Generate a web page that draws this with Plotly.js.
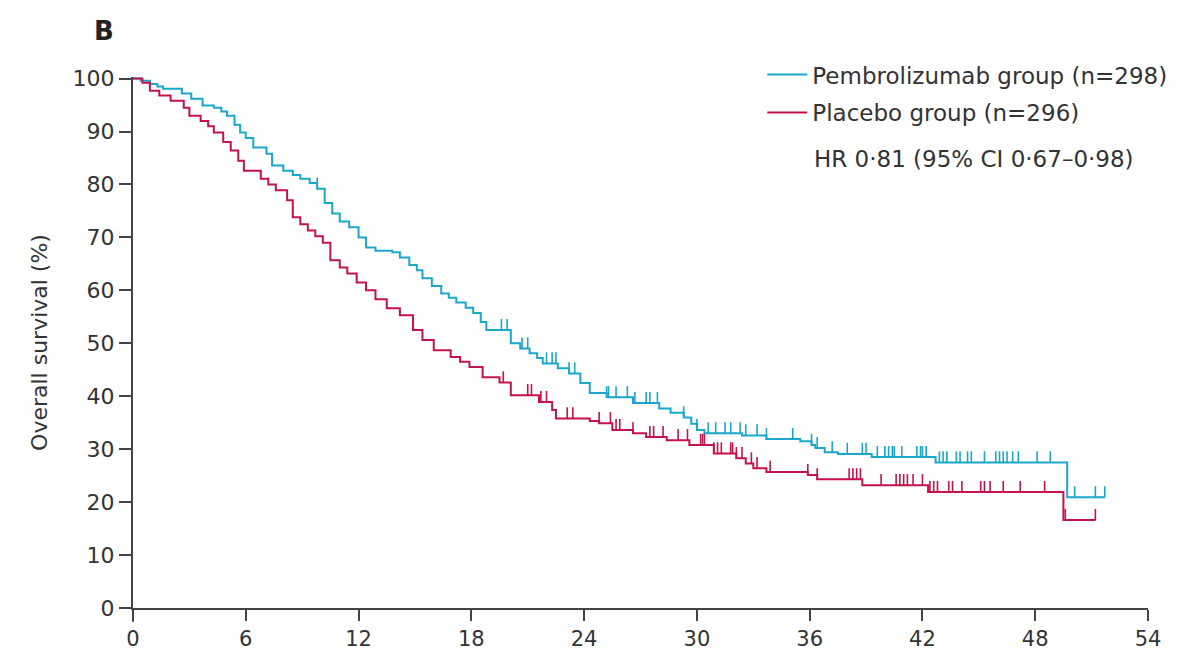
<!DOCTYPE html>
<html><head><meta charset="utf-8">
<script src="https://cdn.plot.ly/plotly-3.0.1.min.js"></script>
<style>html,body{margin:0;padding:0;background:#fff}#chart{width:1188px;height:652px}</style>
</head><body><div id="chart"></div>
<script>
// Pembrolizumab group (n=298): step times (months) and survival (%)
const pembroTime = [0, 0.4, 0.9, 1.3, 1.6, 2.6, 3.1, 3.7, 4.3, 4.7, 5.0, 5.4, 5.7, 6.0, 6.4, 7.1, 7.4, 8.0, 8.5, 8.9, 9.4, 9.8, 10.2, 10.6, 11.0, 11.5, 12.0, 12.4, 12.9, 13.8, 14.2, 14.7, 15.1, 15.4, 15.9, 16.4, 16.8, 17.2, 17.7, 18.1, 18.5, 18.8, 20.1, 20.6, 21.1, 21.5, 21.8, 22.6, 23.2, 23.8, 24.3, 25.2, 26.6, 28.0, 28.6, 29.3, 29.7, 30.0, 30.4, 32.4, 33.7, 35.5, 36.1, 36.3, 36.8, 37.5, 39.3, 42.7, 49.7, 51.7];
const pembroSurv = [100, 99.6, 99.0, 98.5, 98.1, 97.2, 96.2, 94.9, 94.5, 93.8, 93.0, 91.3, 89.8, 88.8, 87.0, 85.8, 83.6, 82.6, 81.8, 81.1, 80.3, 79.2, 76.5, 74.5, 73.0, 71.9, 70.0, 68.1, 67.5, 67.2, 66.2, 64.8, 63.8, 62.3, 60.8, 59.4, 58.6, 57.7, 56.7, 55.7, 54.0, 52.5, 50.0, 49.0, 48.1, 47.2, 46.2, 45.3, 44.3, 42.5, 40.6, 39.8, 38.7, 37.7, 36.9, 36.0, 34.8, 33.6, 33.0, 32.6, 31.9, 31.5, 30.8, 30.2, 29.4, 29.1, 28.5, 27.5, 20.9, 20.9];
const pembroCensor = [9.8, 19.6, 19.9, 20.7, 21.0, 22.0, 22.3, 22.5, 23.2, 23.5, 25.2, 25.3, 25.7, 26.3, 26.7, 27.3, 27.5, 27.9, 29.3, 30.0, 30.6, 31.0, 31.5, 31.8, 32.3, 32.6, 33.2, 33.7, 35.1, 36.1, 36.4, 37.2, 38.0, 38.8, 39.0, 39.6, 40.0, 40.2, 40.4, 40.5, 40.9, 41.7, 41.9, 42.0, 42.2, 42.9, 43.1, 43.3, 43.8, 44.0, 44.4, 44.6, 45.3, 45.9, 46.1, 46.3, 46.5, 46.8, 47.1, 48.1, 48.8, 50.1, 51.2, 51.7];

// Placebo group (n=296)
const placeboTime = [0, 0.5, 0.9, 1.4, 2.0, 2.7, 3.0, 3.6, 4.0, 4.3, 4.8, 5.2, 5.6, 5.9, 6.8, 7.2, 7.6, 8.2, 8.5, 8.9, 9.3, 9.7, 10.1, 10.5, 11.0, 11.4, 11.9, 12.4, 12.9, 13.5, 14.2, 14.9, 15.4, 16.0, 16.9, 17.4, 17.9, 18.6, 19.5, 20.1, 21.6, 22.3, 22.5, 24.3, 24.8, 25.5, 26.6, 27.3, 28.4, 29.6, 30.9, 32.1, 32.6, 33.0, 33.7, 35.9, 36.4, 38.8, 42.3, 49.5, 51.2];
const placeboSurv = [100, 99.2, 97.7, 96.8, 95.8, 94.5, 93.0, 92.0, 91.0, 89.8, 88.0, 86.4, 84.5, 82.6, 81.1, 80.0, 78.9, 77.0, 73.8, 72.5, 71.3, 70.2, 69.0, 65.7, 64.3, 63.2, 61.5, 60.0, 58.3, 56.6, 55.3, 52.5, 50.6, 48.7, 47.4, 46.5, 45.5, 43.6, 42.6, 40.2, 38.9, 37.4, 35.8, 35.3, 34.9, 33.6, 33.0, 32.3, 31.7, 30.8, 29.2, 28.3, 27.3, 26.4, 25.7, 25.1, 24.3, 23.2, 21.9, 16.6, 16.6];
const placeboCensor = [19.7, 21.0, 21.2, 21.7, 22.0, 23.1, 23.4, 24.8, 25.4, 25.7, 25.9, 26.6, 27.5, 27.7, 28.2, 29.0, 29.5, 30.2, 30.3, 30.4, 30.9, 31.1, 31.3, 31.8, 31.9, 32.1, 32.4, 32.9, 33.2, 33.9, 35.9, 36.4, 38.1, 38.3, 38.5, 38.7, 39.8, 40.6, 40.8, 41.0, 41.2, 41.5, 42.0, 42.4, 42.6, 42.8, 43.4, 43.6, 44.1, 45.1, 45.3, 45.6, 46.3, 47.2, 48.5, 49.6, 51.2];

const xTicks = [0, 6, 12, 18, 24, 30, 36, 42, 48, 54];
const yTicks = [0, 10, 20, 30, 40, 50, 60, 70, 80, 90, 100];

const BLUE = '#1ba7c9';
const RED = '#c4124b';
const INK = '#333333';
const AXIS = '#444444';
const FONT = 'DejaVu Sans, sans-serif';

function survAt(times, surv, t) {
  let s = surv[0];
  for (let i = 0; i < times.length; i++) {
    if (times[i] <= t + 1e-9) s = surv[i]; else break;
  }
  return s;
}

function curve(name, times, surv, color, group) {
  return {
    type: 'scatter', mode: 'lines', name: name, x: times, y: surv,
    line: {shape: 'hv', color: color, width: 2}, legendgroup: group,
    hoverinfo: 'skip'
  };
}
function censor(times, surv, cens, color, group) {
  return {
    type: 'scatter', mode: 'markers', x: cens,
    y: cens.map(t => survAt(times, surv, t)),
    marker: {size: 1, color: color}, showlegend: false, legendgroup: group,
    error_y: {type: 'constant', symmetric: false, value: 2.1, valueminus: 0,
              width: 0, thickness: 1.6, color: color},
    cliponaxis: false, hoverinfo: 'skip'
  };
}

const data = [
  curve('Pembrolizumab group (n=298)', pembroTime, pembroSurv, BLUE, 'a'),
  curve('Placebo group (n=296)', placeboTime, placeboSurv, RED, 'b'),
  censor(pembroTime, pembroSurv, pembroCensor, BLUE, 'a'),
  censor(placeboTime, placeboSurv, placeboCensor, RED, 'b')
];

const layout = {
  width: 1188, height: 652,
  margin: {l: 133, r: 40, t: 77, b: 44},
  paper_bgcolor: '#fff', plot_bgcolor: '#fff',
  font: {family: FONT, color: INK, size: 21},
  showlegend: true,
  legend: {
    x: 0.62, xanchor: 'left', y: 1.045, yanchor: 'top',
    font: {family: FONT, size: 23, color: INK},
    bgcolor: 'rgba(0,0,0,0)', tracegroupgap: 5, itemwidth: 40
  },
  xaxis: {
    range: [0, 54], tickvals: xTicks, ticktext: xTicks.map(String),
    showgrid: false, zeroline: false, showline: true, linecolor: AXIS, linewidth: 2,
    ticks: 'outside', ticklen: 11, tickwidth: 2, tickcolor: AXIS,
    tickfont: {family: FONT, size: 21, color: INK}
  },
  yaxis: {
    range: [0, 100.3], tickvals: yTicks, ticktext: yTicks.map(String),
    showgrid: false, zeroline: false, showline: true, linecolor: AXIS, linewidth: 2,
    ticks: 'outside', ticklen: 12, tickwidth: 2, tickcolor: AXIS,
    tickfont: {family: FONT, size: 22, color: INK},
    title: {text: 'Overall survival (%)', font: {family: FONT, size: 22, color: INK}, standoff: 19}
  },
  shapes: [
    {type: 'line', xref: 'paper', yref: 'paper', x0: -0.0125, x1: 0, y0: 0, y1: 0,
     line: {color: AXIS, width: 2}},
    {type: 'line', xref: 'paper', yref: 'paper', x0: 0, x1: 0, y0: 0, y1: -0.026,
     line: {color: AXIS, width: 2}}
  ],
  annotations: [
    {text: '<b>B</b>', xref: 'paper', yref: 'paper', x: -0.04, y: 1.086, xanchor: 'left', yanchor: 'middle',
     showarrow: false, font: {family: FONT, size: 26, color: '#222'}},
    {text: 'HR 0·81 (95% CI 0·67–0·98)', xref: 'paper', yref: 'paper', x: 0.669, y: 0.845,
     xanchor: 'left', yanchor: 'middle', showarrow: false, font: {family: FONT, size: 23, color: INK}}
  ]
};

Plotly.newPlot('chart', data, layout, {displayModeBar: false, staticPlot: true});
</script>
</body></html>
